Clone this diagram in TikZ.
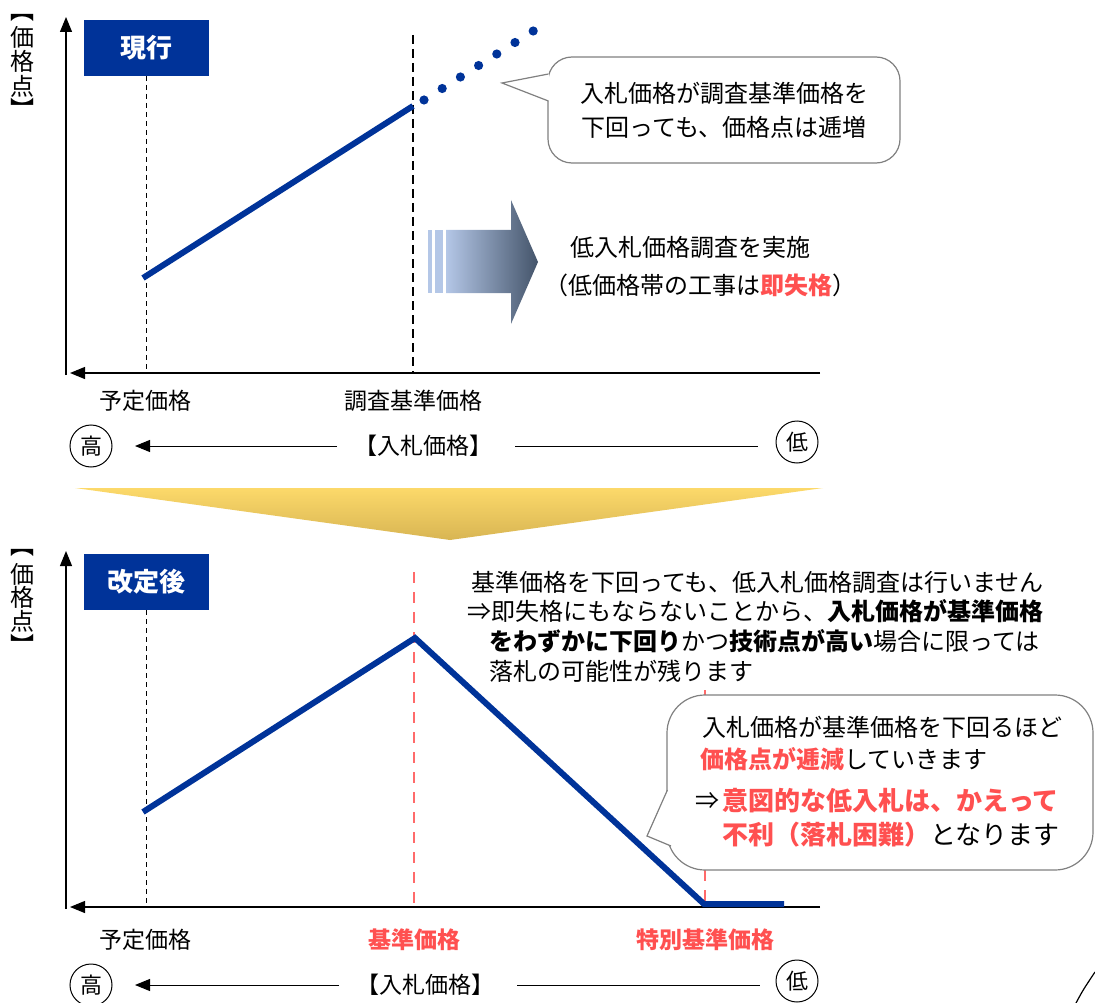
\documentclass[tikz,border=0pt]{standalone}
\usepackage{fontspec}
\setmainfont{Noto Sans CJK JP}
\usetikzlibrary{arrows.meta}
\definecolor{navy}{HTML}{003399}
\definecolor{hot}{HTML}{FF5050}
\definecolor{bluelt}{HTML}{B4C7E7}
\definecolor{slate}{HTML}{44546A}
\definecolor{goldtop}{HTML}{FCD96A}
\definecolor{goldbot}{HTML}{D8B553}
\begin{document}
\begin{tikzpicture}[x=1pt,y=-1pt,
  txt/.style={font=\fontsize{24}{28}\selectfont, inner sep=0pt},
  lbl/.style={font=\fontsize{23}{27}\selectfont, inner sep=0pt},
  big/.style={font=\fontsize{26}{30}\selectfont, inner sep=0pt},
  vch/.style={font=\fontsize{24}{28}\selectfont, inner sep=0pt},
  axisline/.style={line width=1.2pt, -{Triangle[length=15pt,width=12pt]}},
  thinline/.style={line width=1pt},
  tag/.style={fill=navy, text=white, font=\fontsize{26}{30}\selectfont\bfseries, minimum width=125pt, minimum height=56pt, inner sep=0pt},
  refdash/.style={line width=0.9pt, dash pattern=on 5pt off 4pt},
  blkdash/.style={line width=2.2pt, dash pattern=on 9pt off 5pt},
  reddash/.style={line width=2pt, hot!85, dash pattern=on 11pt off 9pt},
  graph/.style={line width=6pt, navy},
  circ/.style={circle, draw, line width=1pt, minimum size=42pt, inner sep=0pt, font=\fontsize{22}{26}\selectfont},
  callout/.style={draw=gray, line width=1.2pt, fill=white}
]
\useasboundingbox (0,0) rectangle (1095,1003);

% ================= TOP PANEL =================
\coordinate (yb1) at (66,375);
\coordinate (yt1) at (66,17);
\coordinate (xr1) at (820,373);
\coordinate (xl1) at (70,373);
\draw[axisline] (yb1) -- (yt1);
\draw[axisline] (xr1) -- (xl1);

% vertical axis label
\node[vch] (vb1a) at (22,18) {︻};
\node[vch] (vc1a) at (22,37) {価};
\node[vch] (vc1b) at (22,61.5) {格};
\node[vch] (vc1c) at (22,86) {点};
\node[vch] (vb1b) at (22,108) {︼};

\node[tag] (now) at (146.5,48) {現行};

\coordinate (d1t) at (146,76);
\coordinate (d1b) at (146,373);
\draw[refdash] (d1t) -- (d1b);

\coordinate (d2t) at (413,35);
\coordinate (d2b) at (413,373);
\draw[blkdash] (d2t) -- (d2b);

\coordinate (g1a) at (143,278);
\coordinate (g1b) at (413,106);
\draw[graph] (g1a) -- (g1b);
\foreach \i in {0,...,6} {
  \fill[navy] ({424+\i*18.2},{100-\i*11.5}) circle (4.6pt);
}

% top callout
\draw[callout, rounded corners=24pt] (548,57) rectangle (900,163);
\coordinate (tip1) at (502,83);
\fill[white] (549,74) -- (tip1) -- (549,101) -- cycle;
\draw[gray, line width=1.2pt] (548.4,74) -- (tip1) -- (548.4,101);
\node[txt] (c1l1) at (724,93) {入札価格が調査基準価格を};
\node[txt] (c1l2) at (724,127) {下回っても、価格点は逓増};

% gradient arrow
\fill[bluelt] (428,230) rectangle (432,293);
\fill[bluelt] (435,230) rectangle (443,293);
\shade[left color=bluelt, right color=slate] (446,230) -- (511,230) -- (511,200) -- (538,262) -- (511,324) -- (511,293) -- (446,293) -- cycle;
\node[txt] (low1) at (690,247) {低入札価格調査を実施};
\node[txt] (low2) at (700,285) {（低価格帯の工事は{\color{hot}\bfseries 即失格}）};

\node[lbl] (yotei1) at (145,401) {予定価格};
\node[lbl] (chosa1) at (413,401) {調査基準価格};

\node[circ] (hi1) at (91,446) {高};
\node[circ] (lo1) at (797,442) {低};
\node[lbl] (bid1) at (423,446) {【入札価格】};
\coordinate (a1s) at (337,446);
\coordinate (a1e) at (135,446);
\draw[thinline, -{Triangle[length=15pt,width=12pt]}] (a1s) -- (a1e);
\coordinate (l1s) at (515,446);
\coordinate (l1e) at (758,446);
\draw[thinline] (l1s) -- (l1e);

% ================= TRANSITION =================
\shade[top color=goldtop, bottom color=goldbot] (75,488) -- (823,488) -- (450,540) -- cycle;

% ================= BOTTOM PANEL =================
\coordinate (yb2) at (66,909);
\coordinate (yt2) at (66,551);
\coordinate (xr2) at (820,907);
\coordinate (xl2) at (70,907);
\draw[axisline] (yb2) -- (yt2);
\draw[axisline] (xr2) -- (xl2);

\node[vch] (vb2a) at (22,553) {︻};
\node[vch] (vc2a) at (22,574) {価};
\node[vch] (vc2b) at (22,597) {格};
\node[vch] (vc2c) at (22,621) {点};
\node[vch] (vb2b) at (22,644) {︼};

\node[tag] (after) at (146.5,582) {改定後};

\coordinate (d3t) at (146,610);
\coordinate (d3b) at (146,907);
\draw[refdash] (d3t) -- (d3b);

\coordinate (d4t) at (414,572);
\coordinate (d4b) at (414,907);
\draw[reddash] (d4t) -- (d4b);

\coordinate (d5t) at (705,690);
\coordinate (d5b) at (705,907);
\draw[reddash] (d5t) -- (d5b);

\coordinate (g2a) at (143,812);
\coordinate (g2b) at (415,638);
\coordinate (g2c) at (704,904);
\coordinate (g2d) at (784,904);
\draw[graph, line join=miter] (g2a) -- (g2b) -- (g2c) -- (g2d);

\node[txt, anchor=west] (t1) at (471,582) {基準価格を下回っても、低入札価格調査は行いません};
\node[txt, anchor=west] (t2) at (467,611) {⇒即失格にもならないことから、{\bfseries 入札価格が基準価格}};
\node[txt, anchor=west] (t3) at (489,641) {{\bfseries をわずかに下回り}かつ{\bfseries 技術点が高い}場合に限っては};
\node[txt, anchor=west] (t4) at (489,671) {落札の可能性が残ります};

% bottom callout
\draw[callout, rounded corners=38pt] (667,695) rectangle (1093,870);
\coordinate (tip2) at (647,836);
\fill[white] (668,790) -- (tip2) -- (672,846) -- cycle;
\draw[gray, line width=1.2pt] (667.4,790) -- (tip2) -- (671,846);
\node[txt, anchor=west] (c2l1) at (702,727) {入札価格が基準価格を下回るほど};
\node[txt, anchor=west] (c2l2) at (700,759) {{\color{hot}\bfseries 価格点が逓減}していきます};
\node[txt] (imp) at (707,801) {⇒};
\node[big, anchor=west, text=hot] (c2l3) at (722,801) {\bfseries 意図的な低入札は、かえって};
\node[big, anchor=west] (c2l4) at (722,835) {{\color{hot}\bfseries 不利（落札困難）}となります};

\node[lbl] (yotei2) at (145,940) {予定価格};
\node[lbl, text=hot, font=\fontsize{23}{27}\selectfont\bfseries] (kijun2) at (414,940) {基準価格};
\node[lbl, text=hot, font=\fontsize{23}{27}\selectfont\bfseries] (toku2) at (705,940) {特別基準価格};

\node[circ] (hi2) at (91,985) {高};
\node[circ] (lo2) at (797,981) {低};
\node[lbl] (bid2) at (425,985) {【入札価格】};
\coordinate (a2s) at (339,985);
\coordinate (a2e) at (135,985);
\draw[thinline, -{Triangle[length=15pt,width=12pt]}] (a2s) -- (a2e);
\coordinate (l2s) at (517,985);
\coordinate (l2e) at (760,985);
\draw[thinline] (l2s) -- (l2e);

% stray arc at bottom-right corner
\coordinate (arcA) at (1076,1003);
\coordinate (arcB) at (1095,972);
\draw[line width=1.2pt] (arcA) .. controls (1083,990) .. (arcB);
\end{tikzpicture}
\end{document}
